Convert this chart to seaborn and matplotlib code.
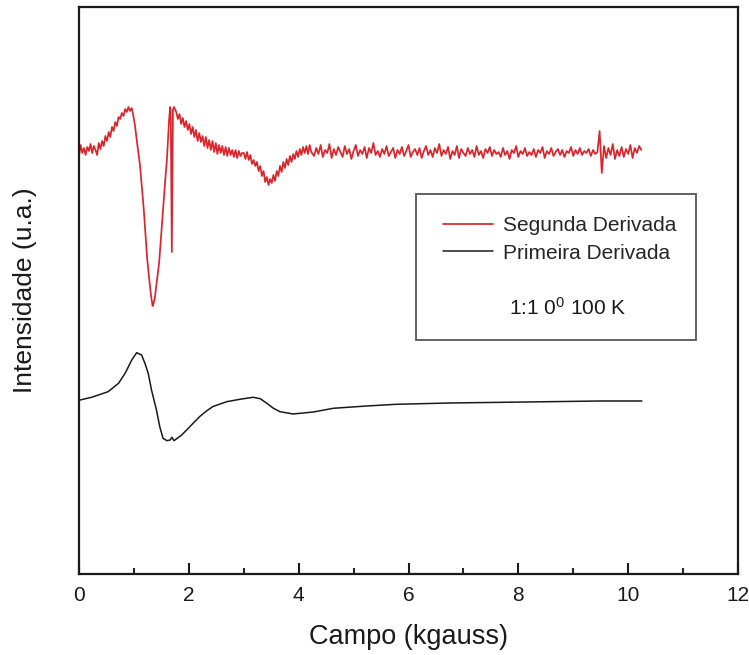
import matplotlib
matplotlib.use("Agg")
import matplotlib.pyplot as plt
import seaborn as sns
import pandas as pd
from matplotlib.patches import Rectangle
from matplotlib.ticker import MultipleLocator

# Primeira derivada (linha preta)
campo_primeira = [0.02, 0.23, 0.53, 0.72, 0.84, 0.96, 1.05, 1.14, 1.20, 1.26,
                  1.32, 1.41, 1.47, 1.53, 1.60, 1.66, 1.69, 1.73, 1.87, 1.99,
                  2.10, 2.20, 2.32, 2.44, 2.69, 2.93, 3.17, 3.30, 3.42, 3.54,
                  3.66, 3.90, 4.27, 4.63, 5.24, 5.78, 6.76, 8.16, 9.49, 10.25]
intens_primeira = [174, 176.7, 182.3, 190.7, 200.7, 214, 221.3, 219, 210.7, 200.7,
                   184, 164, 147.3, 135.7, 133.3, 134, 136.7, 133.3, 139, 145.7,
                   152, 157.5, 163, 167.5, 172.3, 174.7, 176.7, 175.3, 170.7, 165.7,
                   162.3, 160, 162, 165.7, 168, 169.7, 171, 172, 173, 173]

# Segunda derivada (linha vermelha): regiao das linhas de ressonancia
campo_seg_a = [0.00, 0.03, 0.06, 0.09, 0.12, 0.15, 0.18, 0.21, 0.24, 0.27,
               0.30, 0.33, 0.36, 0.39, 0.42, 0.45, 0.48, 0.51, 0.54, 0.57,
               0.60, 0.63, 0.66, 0.69, 0.72, 0.75, 0.78, 0.81, 0.84, 0.87,
               0.90, 0.93, 0.96, 0.99, 1.02, 1.06, 1.11, 1.18, 1.24, 1.27,
               1.31, 1.34, 1.36, 1.38, 1.42, 1.46, 1.51, 1.57, 1.60, 1.64,
               1.66, 1.67, 1.69, 1.71, 1.73, 1.77]
intens_seg_a = [418, 429, 421, 426, 419, 427, 423, 430, 421, 428,
                424, 419, 431, 425, 433, 428, 438, 433, 442, 437,
                447, 443, 452, 448, 457, 455, 461, 458, 465, 462,
                467, 463, 466, 458, 448, 430, 409, 364, 316, 299,
                279, 268, 271, 276, 294, 312, 349, 394, 414, 454,
                467, 462, 322, 464, 467, 462]

# Segunda derivada: decaimento e linha em ~3.4 kgauss
campo_seg_b = [1.80, 1.83, 1.86, 1.89, 1.92, 1.95, 1.98, 2.01, 2.04, 2.07,
               2.10, 2.13, 2.16, 2.19, 2.22, 2.25, 2.28, 2.31, 2.34, 2.37,
               2.40, 2.43, 2.46, 2.49, 2.52, 2.55, 2.58, 2.61, 2.64, 2.67,
               2.70, 2.73, 2.76, 2.79, 2.82, 2.85, 2.88, 2.91, 2.94, 2.97,
               3.00, 3.03, 3.06, 3.09, 3.12, 3.15, 3.18, 3.21, 3.24, 3.27,
               3.30, 3.33, 3.36, 3.39, 3.42, 3.45, 3.48, 3.51, 3.54, 3.57,
               3.60, 3.63, 3.66, 3.69, 3.72, 3.75, 3.78, 3.81, 3.84, 3.87,
               3.90, 3.93, 3.96, 3.99, 4.02, 4.05, 4.08, 4.11, 4.14, 4.17,
               4.20, 4.23]
intens_seg_b = [455, 460, 450, 456, 447, 453, 444, 450, 440, 447,
                437, 444, 433, 441, 432, 438, 428, 437, 426, 434,
                424, 433, 422, 431, 420, 429, 421, 428, 419, 427,
                418, 426, 419, 424, 417, 424, 416, 423, 418, 421,
                421, 415, 422, 414, 419, 410, 414, 408, 412, 403,
                408, 398, 403, 392, 397, 389, 395, 391, 399, 393,
                403, 398, 408, 402, 412, 406, 415, 409, 418, 412,
                420, 415, 423, 417, 425, 419, 427, 421, 428, 420,
                429, 422]

# Segunda derivada: linha de base ate o fim da varredura
campo_seg_c = [4.28, 4.32, 4.36, 4.40, 4.44, 4.48, 4.52, 4.56, 4.60, 4.64,
               4.68, 4.72, 4.76, 4.80, 4.84, 4.88, 4.92, 4.96, 5.00, 5.04,
               5.08, 5.12, 5.16, 5.20, 5.24, 5.28, 5.32, 5.36, 5.40, 5.44,
               5.48, 5.52, 5.56, 5.60, 5.64, 5.68, 5.72, 5.76, 5.80, 5.84,
               5.88, 5.92, 5.96, 6.00, 6.04, 6.08, 6.12, 6.16, 6.20, 6.24,
               6.28, 6.32, 6.36, 6.40, 6.44, 6.48, 6.52, 6.56, 6.60, 6.64,
               6.68, 6.72, 6.76, 6.80, 6.84, 6.88, 6.92, 6.96, 7.00, 7.04,
               7.08, 7.12, 7.16, 7.20, 7.24, 7.28, 7.32, 7.36, 7.40, 7.44,
               7.48, 7.52, 7.56, 7.60, 7.64, 7.68, 7.72, 7.76, 7.80, 7.84,
               7.88, 7.92, 7.96, 8.00, 8.04, 8.08, 8.12, 8.16, 8.20, 8.24,
               8.28, 8.32, 8.36, 8.40, 8.44, 8.48, 8.52, 8.56, 8.60, 8.64,
               8.68, 8.72, 8.76, 8.80, 8.84, 8.88, 8.92, 8.96, 9.00, 9.04,
               9.08, 9.12, 9.16, 9.20, 9.24, 9.28, 9.32, 9.36, 9.40, 9.44,
               9.48, 9.52, 9.56, 9.60, 9.64, 9.68, 9.72, 9.76, 9.80, 9.84,
               9.88, 9.92, 9.96, 10.00, 10.04, 10.08, 10.12, 10.16, 10.20, 10.24]
intens_seg_c = [418, 426, 420, 429, 417, 424, 421, 430, 416, 425,
                419, 427, 422, 417, 428, 420, 425, 415, 423, 429,
                418, 424, 420, 427, 416, 426, 421, 431, 419, 423,
                417, 425, 420, 428, 418, 422, 426, 416, 424, 420,
                427, 418, 423, 429, 417, 422, 425, 419, 426, 416,
                423, 428, 419, 424, 417, 426, 421, 430, 418, 424,
                420, 427, 415, 423, 419, 428, 416, 425, 421, 418,
                426, 420, 424, 417, 428, 419, 423, 416, 425, 421,
                427, 418, 424, 420, 422, 417, 426, 419, 423, 415,
                424, 421, 428, 417, 423, 420, 426, 418, 422, 419,
                425, 417, 424, 421, 427, 416, 423, 420, 426, 418,
                422, 425, 419, 424, 417, 423, 421, 427, 418, 424,
                420, 426, 419, 423, 421, 425, 418, 424, 420, 422,
                443, 401, 428, 416, 426, 419, 430, 415, 424, 418,
                427, 417, 425, 420, 429, 416, 426, 421, 428, 424]

rotulos_x = ["0", "2", "4", "6", "8", "10", "12"]
serie_nomes = ["Segunda Derivada", "Primeira Derivada"]
legenda_extra = "1:1 0$^{0}$ 100 K"

sns.set_theme(style="white")
plt.rcParams['font.family'] = ['Liberation Sans', 'DejaVu Sans']
plt.rcParams['mathtext.fontset'] = 'custom'
plt.rcParams['mathtext.rm'] = 'Liberation Sans'
plt.rcParams['mathtext.it'] = 'Liberation Sans'

df_seg = pd.DataFrame({
    "campo": campo_seg_a + campo_seg_b + campo_seg_c,
    "intensidade": intens_seg_a + intens_seg_b + intens_seg_c,
})
df_pri = pd.DataFrame({"campo": campo_primeira, "intensidade": intens_primeira})

fig = plt.figure(figsize=(7.49, 6.55), dpi=100)
ax = fig.add_axes([0.1055, 0.1237, 0.8798, 0.8656])

sns.lineplot(data=df_seg, x="campo", y="intensidade", ax=ax, color="#d8262b",
             lw=1.25, estimator=None, sort=False, label=serie_nomes[0])
sns.lineplot(data=df_pri, x="campo", y="intensidade", ax=ax, color="#1a1a1a",
             lw=1.1, estimator=None, sort=False, label=serie_nomes[1])

ax.set_xlim(0, 12)
ax.set_ylim(0, 567)
ax.set_xticks([0, 2, 4, 6, 8, 10, 12])
ax.set_xticklabels(rotulos_x)
ax.xaxis.set_minor_locator(MultipleLocator(1))
ax.set_yticks([])
ax.tick_params(axis="x", which="major", direction="in", length=8, width=1.5,
               labelsize=15, pad=9, colors="#1a1a1a", bottom=True)
ax.tick_params(axis="x", which="minor", direction="in", length=4, width=1.5,
               bottom=True)
for sp in ax.spines.values():
    sp.set_color("#1a1a1a")
    sp.set_linewidth(1.6)

ax.set_xlabel("Campo (kgauss)", fontsize=19.5, labelpad=13, color="#1a1a1a")
ax.set_ylabel("Intensidade (u.a.)", fontsize=19, labelpad=30, color="#1a1a1a")

# caixa da legenda com a anotacao da amostra
ax.add_patch(Rectangle((0.511, 0.413), 0.425, 0.257, transform=ax.transAxes,
                       fill=False, edgecolor="#555555", lw=1.3, zorder=5))
ax.legend(loc="upper left", bbox_to_anchor=(0.553, 0.631), frameon=False,
          fontsize=15, handlelength=2.4, handletextpad=0.45, labelspacing=0.4,
          borderpad=0, borderaxespad=0)
ax.text(0.742, 0.469, legenda_extra, transform=ax.transAxes, fontsize=15,
        ha="center", va="center", color="#1a1a1a")

fig.savefig("out.png", dpi=100)
